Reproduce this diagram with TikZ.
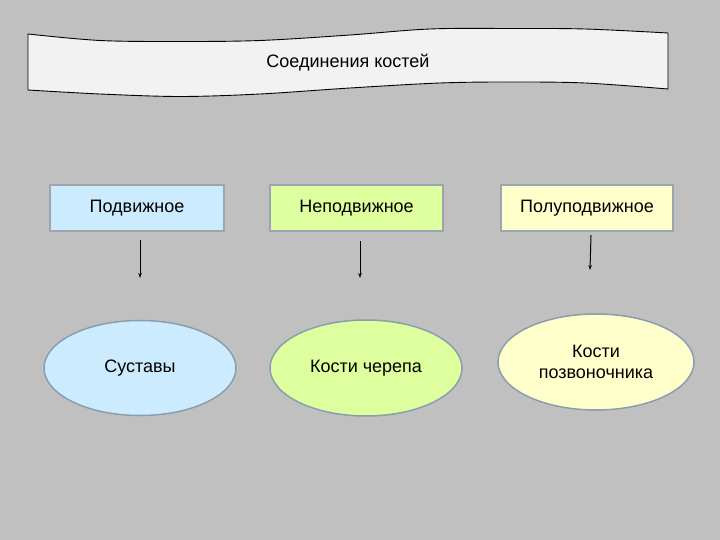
\documentclass[tikz,border=0pt]{standalone}
\usepackage{fontspec}
\setmainfont{Liberation Sans}
\usetikzlibrary{shapes.geometric,arrows.meta}
\definecolor{bgc}{HTML}{C0C0C0}
\definecolor{bannerfill}{HTML}{F2F2F2}
\definecolor{bluef}{HTML}{CCEBFF}
\definecolor{greenf}{HTML}{DDFF9E}
\definecolor{yellowf}{HTML}{FFFFCC}
\definecolor{edgec}{HTML}{8A9EAC}
\definecolor{boxedge}{HTML}{9AA6AE}
\tikzset{
  txt/.style={font=\fontsize{18}{21}\selectfont, text=black, align=center},
  catbox/.style={txt, rectangle, draw=boxedge, line width=1.2pt, minimum height=46pt, inner sep=0pt},
  oval/.style={txt, ellipse, draw=edgec, line width=1.5pt, inner sep=0pt},
  arr/.style={draw=black, line width=1pt, -{Stealth[length=5pt,width=3.5pt]}},
  banner/.style={draw=black, line width=0.9pt, fill=bannerfill}
}
\begin{document}
\begin{tikzpicture}[x=1pt,y=-1pt]
\fill[bgc] (0,0) rectangle (720,540);
\useasboundingbox (0,0) rectangle (720,540);
% banner
\path[banner] plot[smooth, tension=0.55] coordinates {(28,34) (100,40.5) (180,41.5) (260,40.5) (350,35) (430,29) (510,28.5) (585,29) (668,33)}
  -- (668,89)
  -- plot[smooth, tension=0.55] coordinates {(668,89) (585,83) (510,82) (440,83) (350,88) (260,94) (180,96.5) (100,94) (28,90)}
  -- cycle;
\node[txt] (title) at (348,63) {Соединения костей};
% boxes
\node[catbox, fill=bluef, minimum width=174pt] (b1) at (137,208) {Подвижное};
\node[catbox, fill=greenf, minimum width=173pt] (b2) at (356.5,208) {Неподвижное};
\node[catbox, fill=yellowf, minimum width=172pt] (b3) at (587,208) {Полуподвижное};
% ovals
\node[oval, fill=bluef, minimum width=192pt, minimum height=95pt] (e1) at (140,368) {Суставы};
\node[oval, fill=greenf, minimum width=192pt, minimum height=96pt] (e2) at (366,368) {Кости черепа};
\node[oval, fill=yellowf, minimum width=196pt, minimum height=96pt] (e3) at (596,362) {Кости\\позвоночника};
% arrows
\coordinate (a1s) at (140,240); \coordinate (a1e) at (140,278);
\coordinate (a2s) at (360,241); \coordinate (a2e) at (360,278);
\coordinate (a3s) at (591,235); \coordinate (a3e) at (590,270);
\draw[arr] (a1s) -- (a1e);
\draw[arr] (a2s) -- (a2e);
\draw[arr] (a3s) -- (a3e);
\end{tikzpicture}
\end{document}
